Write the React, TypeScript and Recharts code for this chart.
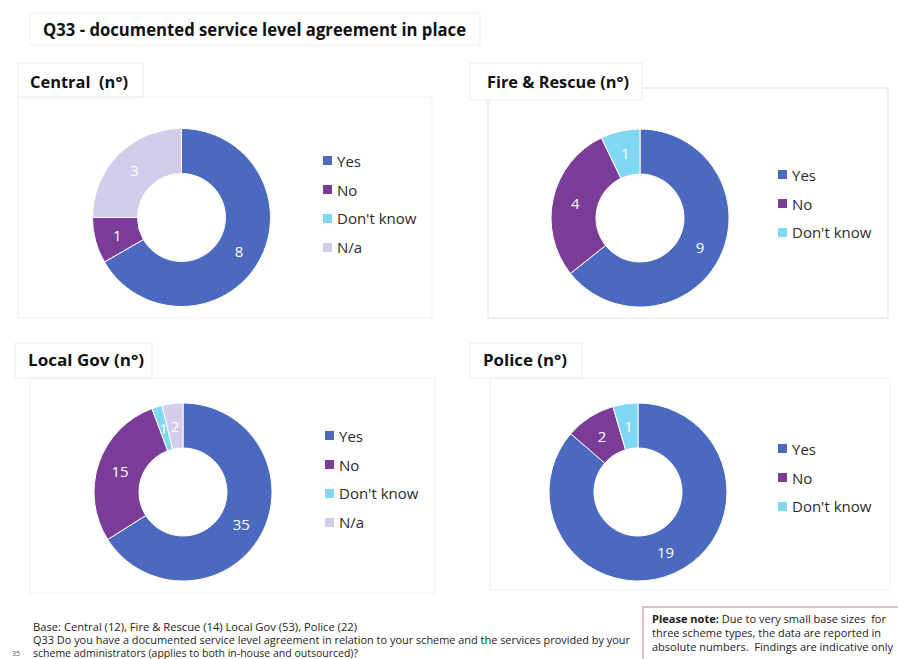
import React from "react";
import { PieChart, Pie, Cell, Legend } from "recharts";

const categories = ["Yes", "No", "Don't know", "N/a"];
const colors = ["#4a69bf", "#7b3c97", "#80d8f2", "#d2cdeb"];

const centralValues = [8, 1, 0, 3];
const fireValues = [9, 4, 1];
const localGovValues = [35, 15, 1, 2];
const policeValues = [19, 2, 1];

const mainTitle = "Q33 - documented service level agreement in place";
const panelTitles = ["Central\u00a0\u00a0(n°)", "Fire & Rescue (n°)", "Local Gov (n°)", "Police (n°)"];
const baseText = "Base: Central (12), Fire & Rescue (14) Local Gov (53), Police (22)";
const questionLines = [
  "Q33 Do you have a documented service level agreement in relation to your scheme and the services provided by your",
  "scheme administrators (applies to both in-house and outsourced)?",
];
const pageNumber = "35";
const noteBold = "Please note:";
const noteLines = [
  " Due to very small base sizes\u00a0\u00a0for",
  "three scheme types, the data are reported in",
  "absolute numbers.\u00a0\u00a0Findings are indicative only",
];

const FONT = "'Open Sans', 'Noto Sans', sans-serif";
const RADIAN = Math.PI / 180;

const renderLabel = (props: any) => {
  const { cx, cy, midAngle, innerRadius, outerRadius, value } = props;
  if (!value) return null;
  const r = (innerRadius + outerRadius) / 2;
  const x = cx + r * Math.cos(-midAngle * RADIAN);
  const y = cy + r * Math.sin(-midAngle * RADIAN);
  return (
    <text x={x} y={y} fill="#ffffff" textAnchor="middle" dominantBaseline="central" fontSize={15} fontFamily={FONT}>
      {value}
    </text>
  );
};

type DonutProps = {
  left: number;
  top: number;
  width: number;
  height: number;
  cx: number;
  cy: number;
  values: number[];
  legendLeft: number;
  legendTop: number;
};

const Donut = ({ left, top, width, height, cx, cy, values, legendLeft, legendTop }: DonutProps) => {
  const names = categories.slice(0, values.length);
  const data = names.map((name, i) => ({ name, value: values[i] }));
  return (
    <div style={{ position: "absolute", left, top, width, height }}>
      <PieChart width={width} height={height} margin={{ top: 0, right: 0, bottom: 0, left: 0 }}>
        <Pie
          data={data}
          dataKey="value"
          nameKey="name"
          cx={cx}
          cy={cy}
          innerRadius={44}
          outerRadius={89}
          startAngle={90}
          endAngle={-270}
          stroke="#ffffff"
          strokeWidth={1}
          label={renderLabel}
          labelLine={false}
          isAnimationActive={false}
        >
          {data.map((d, i) => (
            <Cell key={d.name} fill={colors[i]} />
          ))}
        </Pie>
        <Legend
          layout="vertical"
          align="right"
          verticalAlign="top"
          wrapperStyle={{ position: "absolute", left: legendLeft, top: legendTop, width: 130 }}
          content={() => (
            <div>
              {names.map((name, i) => (
                <div
                  key={name}
                  style={{
                    display: "flex",
                    alignItems: "center",
                    height: 28.8,
                    fontFamily: FONT,
                    fontSize: 15,
                    color: "#2b2b2b",
                  }}
                >
                  <span style={{ display: "inline-block", width: 9, height: 9, background: colors[i], marginRight: 5 }} />
                  <span>{name}</span>
                </div>
              ))}
            </div>
          )}
        />
      </PieChart>
    </div>
  );
};

const FitText = ({ x, y, w, size, weight = 400, fill = "#1a1a1a", children }: any) => (
  <text
    x={x}
    y={y}
    textLength={w}
    lengthAdjust="spacingAndGlyphs"
    fontSize={size}
    fontWeight={weight}
    fontFamily={FONT}
    fill={fill}
  >
    {children}
  </text>
);

export default function App() {
  return (
    <div style={{ position: "absolute", left: 0, top: 0, width: 898, height: 659, background: "#ffffff", overflow: "hidden" }}>
      <svg width={898} height={659} style={{ position: "absolute", left: 0, top: 0 }}>
        {/* panel frames */}
        <rect x={18} y={97} width={414} height={221} fill="none" stroke="#f1f1f1" />
        <rect x={488} y={88} width={400} height={230} fill="none" stroke="#e2e2e2" />
        <rect x={30} y={378} width={405} height={215} fill="none" stroke="#f1f1f1" />
        <rect x={490} y={378} width={400} height={212} fill="none" stroke="#f0f0f0" />
        {/* title boxes */}
        <rect x={30} y={13} width={450} height={32} fill="#ffffff" stroke="#ededed" />
        <rect x={18} y={63} width={125} height={34} fill="#ffffff" stroke="#ededed" />
        <rect x={470} y={63} width={172} height={37} fill="#ffffff" stroke="#ededed" />
        <rect x={15} y={343} width={137} height={35} fill="#ffffff" stroke="#ededed" />
        <rect x={470} y={343} width={112} height={35} fill="#ffffff" stroke="#ededed" />

        <FitText x={43} y={36} w={423} size={17} weight={700} fill="#111111">{mainTitle}</FitText>
        <FitText x={30} y={88} w={98} size={16} weight={700} fill="#111111">{panelTitles[0]}</FitText>
        <FitText x={487} y={88} w={142} size={16} weight={700} fill="#111111">{panelTitles[1]}</FitText>
        <FitText x={28} y={366} w={116} size={16} weight={700} fill="#111111">{panelTitles[2]}</FitText>
        <FitText x={483} y={366} w={84} size={16} weight={700} fill="#111111">{panelTitles[3]}</FitText>

        {/* footer */}
        <FitText x={33} y={631} w={324} size={10} fill="#222222">{baseText}</FitText>
        <FitText x={33} y={644} w={597} size={10} fill="#222222">{questionLines[0]}</FitText>
        <FitText x={33} y={656.5} w={325} size={10} fill="#222222">{questionLines[1]}</FitText>
        <text x={12} y={656} fontSize={7} fontFamily={FONT} fill="#555555">{pageNumber}</text>

        {/* note box */}
        <rect x={643} y={607} width={262} height={60} fill="#ffffff" stroke="#dba9b2" strokeWidth={1.5} />
        <text x={652} y={623} textLength={234} lengthAdjust="spacingAndGlyphs" fontSize={10} fontFamily={FONT} fill="#222222">
          <tspan fontWeight={700}>{noteBold}</tspan>
          <tspan>{noteLines[0]}</tspan>
        </text>
        <FitText x={652} y={637} w={229} size={10} fill="#222222">{noteLines[1]}</FitText>
        <FitText x={652} y={651} w={241} size={10} fill="#222222">{noteLines[2]}</FitText>
      </svg>

      <Donut left={18} top={97} width={414} height={221} cx={163.5} cy={120.5} values={centralValues} legendLeft={305} legendTop={49.5} />
      <Donut left={488} top={88} width={400} height={230} cx={152} cy={130} values={fireValues} legendLeft={290} legendTop={72.5} />
      <Donut left={30} top={378} width={405} height={215} cx={153} cy={114} values={localGovValues} legendLeft={295} legendTop={43.5} />
      <Donut left={490} top={378} width={400} height={212} cx={148} cy={114} values={policeValues} legendLeft={288} legendTop={56.5} />
    </div>
  );
}
